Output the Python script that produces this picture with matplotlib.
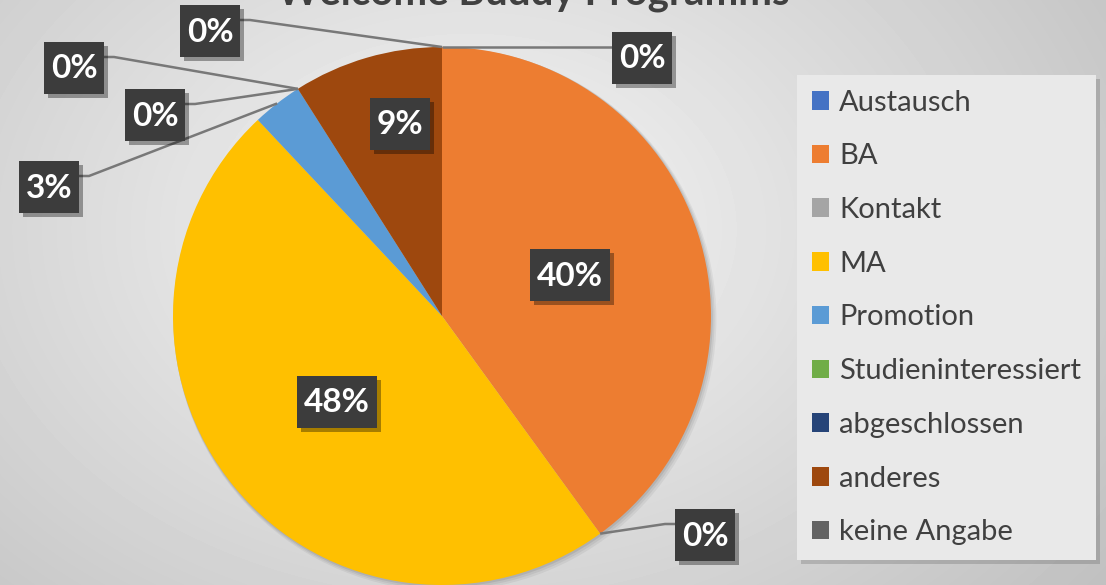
import numpy as np
import matplotlib
matplotlib.use("Agg")
import matplotlib.pyplot as plt
from matplotlib.patches import Rectangle, Circle
import matplotlib.patheffects as pe

# ---------------- data ----------------
categories = ["Austausch", "BA", "Kontakt", "MA", "Promotion",
              "Studieninteressiert", "abgeschlossen", "anderes", "keine Angabe"]
shares = [0, 40, 0, 48, 3, 0, 0, 9, 0]
pct_labels = ["0%", "40%", "0%", "48%", "3%", "0%", "0%", "9%", "0%"]
colors = ["#4472C4", "#ED7D31", "#A5A5A5", "#FFC000", "#5B9BD5",
          "#70AD47", "#264478", "#9E480E", "#636363"]
title = "Welcome Buddy Programms"

# label box centres (pixels from top-left) and whether they sit outside
label_pos = [(642, 58), (570, 275), (705, 535), (337, 402), (49, 187),
             (155, 115), (74, 68), (400, 124), (210, 31)]
outside = [True, False, True, False, True, True, True, False, True]

W, H = 1106, 585
FONT = "Lato"
fig = plt.figure(figsize=(W / 100, H / 100), dpi=100)
ax = fig.add_axes([0, 0, 1, 1])
ax.axis("off")

# background radial gradient
yy, xx = np.mgrid[0:H, 0:W]
d = np.sqrt(((xx - 470) / 680) ** 2 + ((yy - (H - 230)) / 500) ** 2)
bg = 0.965 - 0.18 * np.clip(d, 0, 1.4)
ax.imshow(bg, cmap="gray", vmin=0, vmax=1, extent=(0, W, 0, H),
          origin="lower", zorder=0, interpolation="bilinear")

def py(y):
    return H - y

cx, cy, R = 442, py(316), 269

# soft shadow under pie
for k, a in [(6, 0.05), (4, 0.06), (2, 0.08)]:
    ax.add_patch(Circle((cx + k * 0.5, cy - k * 0.6), R + k * 0.4, facecolor="k",
                        edgecolor="none", alpha=a, zorder=1))

wedges, _ = ax.pie(shares, colors=colors, startangle=90, counterclock=False,
                   center=(cx, cy), radius=R, frame=True,
                   wedgeprops=dict(linewidth=0, zorder=2))
for w in wedges:
    w.set_zorder(2)

# labels
for w, lab, (bx, by), out in zip(wedges, pct_labels, label_pos, outside):
    bw = 20 + 20 * len(lab)
    bh = 52
    x0, y0 = bx - bw / 2, py(by) - bh / 2
    box = Rectangle((x0, y0), bw, bh, facecolor="#3c3c3c", edgecolor="none", zorder=5,
                    path_effects=[pe.SimplePatchShadow(offset=(3, -3), shadow_rgbFace="k", alpha=0.35),
                                  pe.Normal()])
    ax.add_patch(box)
    ax.text(bx, py(by) - 1, lab, color="white", fontsize=24, fontweight="bold",
            family=FONT, ha="center", va="center", zorder=6)
    if out:
        ang = np.deg2rad((w.theta1 + w.theta2) / 2)
        axp, ayp = cx + R * np.cos(ang), cy + R * np.sin(ang)
        ly = y0 + bh - 15
        if axp > bx:
            sx = x0 + bw
            stub = sx + 10
        else:
            sx = x0
            stub = sx - 10
        ax.plot([sx, stub, axp], [ly, ly, ayp], color="#787878", lw=1.8, zorder=4,
                solid_capstyle="butt")

# title (cut at top, as in the original)
ax.text(533, py(5), title, fontsize=29, fontweight="bold", family=FONT,
        color="#404040", ha="center", va="baseline", zorder=6)

ax.set_xlim(0, W)
ax.set_ylim(0, H)
ax.set_aspect("equal")

# legend
leg = ax.legend(wedges, categories, loc="upper left",
                bbox_to_anchor=(797 / W, 1 - 75 / H), bbox_transform=fig.transFigure,
                frameon=True, fancybox=False, shadow=False,
                prop=dict(family=FONT, size=21), labelcolor="#404040",
                handlelength=0.6, handleheight=0.6, handletextpad=0.35,
                labelspacing=0.95, borderpad=0.5, borderaxespad=0)
fr = leg.get_frame()
fr.set_facecolor("#e9e9e9")
fr.set_edgecolor("none")
fr.set_alpha(1)
fr.set_path_effects([pe.SimplePatchShadow(offset=(3, -3), shadow_rgbFace="k", alpha=0.15), pe.Normal()])
leg.set_zorder(7)

fig.savefig("out.png", dpi=100)
